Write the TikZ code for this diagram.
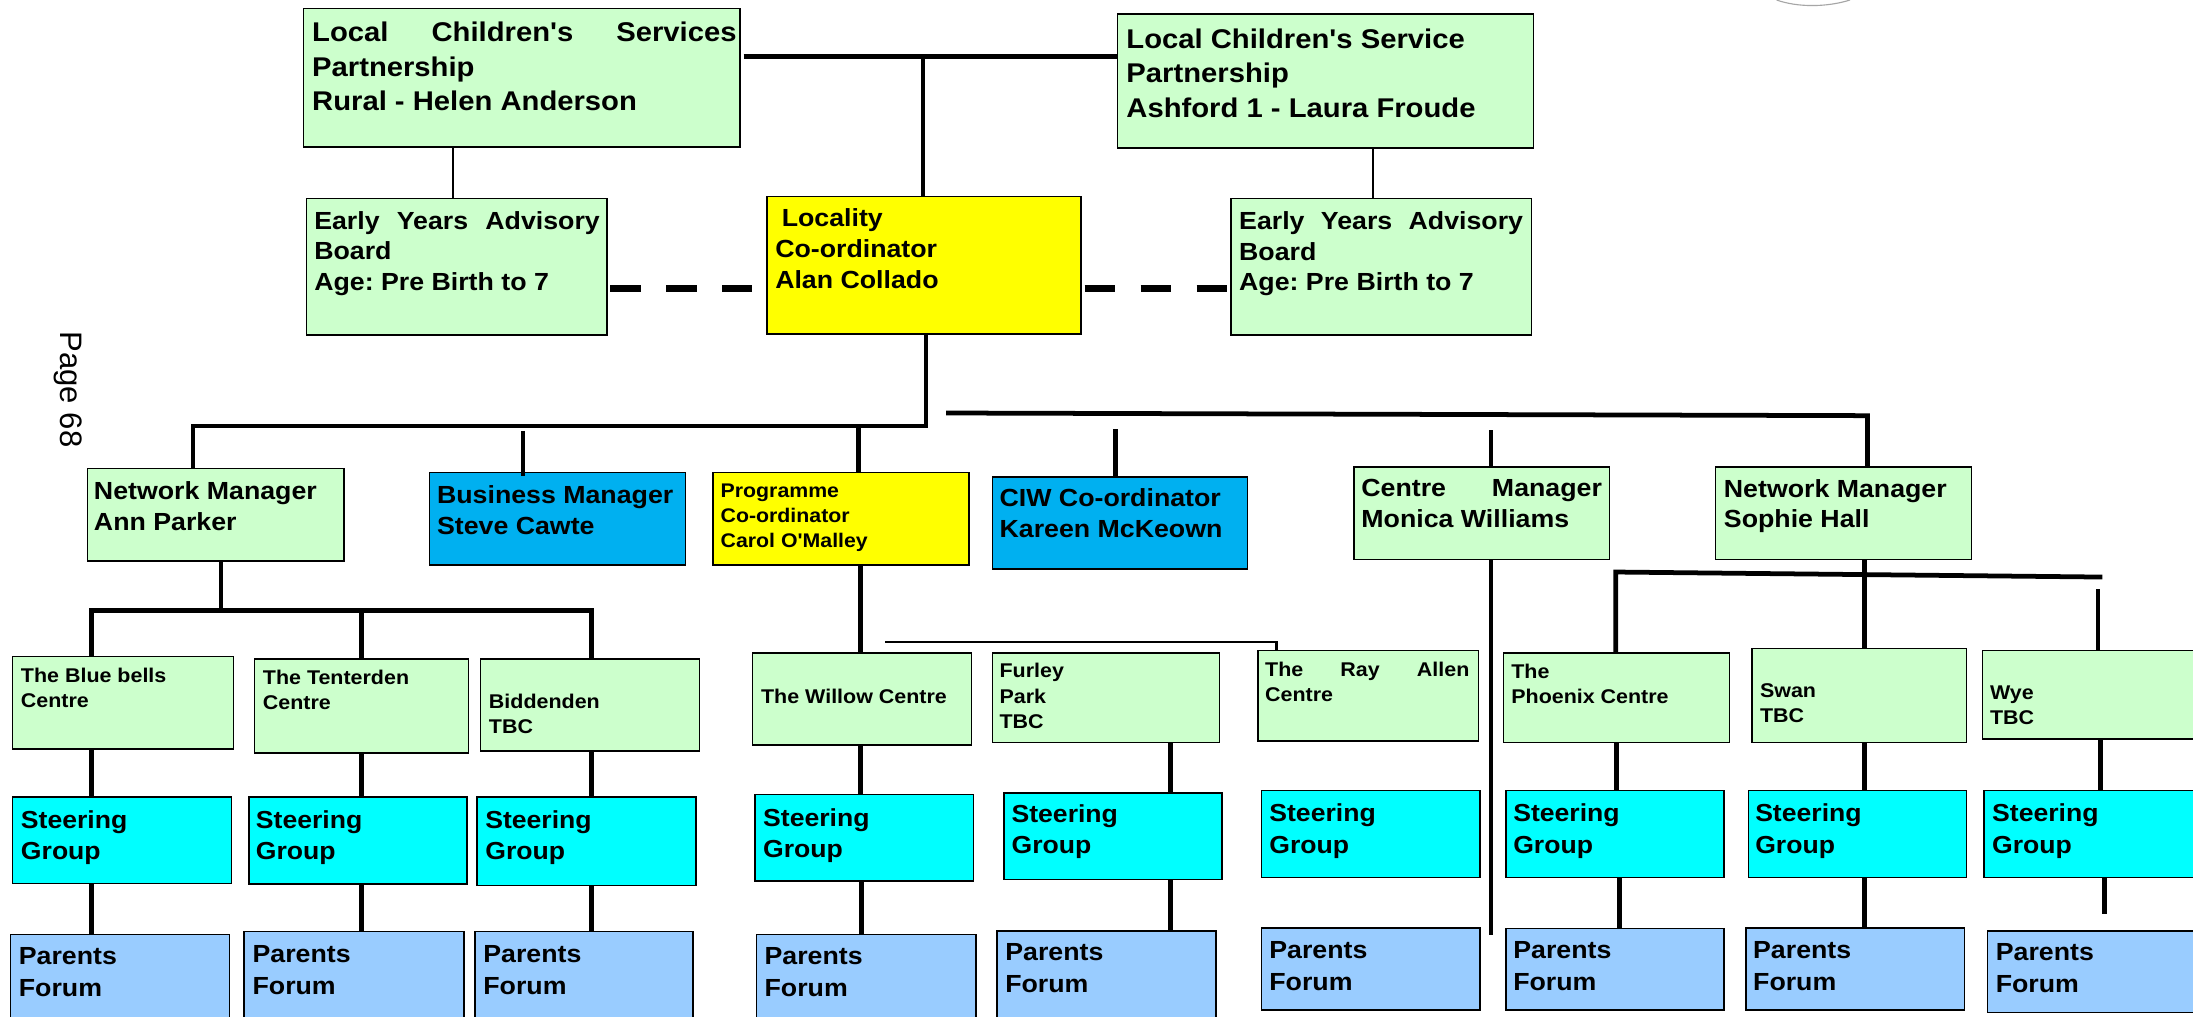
\documentclass[tikz,border=0pt]{standalone}
\usepackage{fontspec}
\newfontfamily\mf{Liberation Sans}[FakeStretch=1.08]
\newfontfamily\pagefont{Liberation Sans}
\definecolor{lgreen}{HTML}{CCFFCC}
\definecolor{yel}{HTML}{FFFF00}
\definecolor{bblue}{HTML}{00B0F0}
\definecolor{cyanc}{HTML}{00FFFF}
\definecolor{lblue}{HTML}{99CCFF}
\frenchspacing
\newcommand\obox[6]{\node[box,fill=#2,minimum width={#5-#3},minimum height={#6-#4}] (#1) at (#3,#4) {};}
\newcommand\otext[5]{\node[txt,#4] (#1) at (#2,#3) {#5};}
\tikzset{
  box/.style={draw, line width=1.1pt, rectangle, inner sep=0pt, outer sep=0pt, anchor=north west},
  txt/.style={anchor=north west, inner sep=0pt, outer sep=0pt, align=left},
  ttop/.style={font=\mf\bfseries\fontsize{19.35}{24.7}\selectfont, yshift=6.97pt},
  tmid/.style={font=\mf\bfseries\fontsize{17.7}{22}\selectfont, yshift=6.37pt},
  tprog/.style={font=\mf\bfseries\fontsize{14.1}{17.7}\selectfont, yshift=5.08pt},
  tsm/.style={font=\mf\bfseries\fontsize{14.2}{18}\selectfont, yshift=5.1pt},
  tst/.style={font=\mf\bfseries\fontsize{17.6}{22.5}\selectfont, yshift=6.34pt},
  tpf/.style={font=\mf\bfseries\fontsize{17.7}{23}\selectfont, yshift=6.37pt},
  conn/.style={line width=3.4pt},
  thinc/.style={line width=1pt},
  medc/.style={line width=1.9pt},
  dashc/.style={line width=5.5pt, dash pattern=on 21.5pt off 18.5pt},
}
\begin{document}
\begin{tikzpicture}[x=1pt,y=-1pt]
\useasboundingbox (0,0) rectangle (1568,727);
\clip (0,0) rectangle (1568,727);
\fill[white] (0,0) rectangle (1568,727);

% ---------- boxes ----------
\obox{lr}{lgreen}{217}{6}{529}{105}
\obox{la}{lgreen}{799}{10}{1096.5}{106}
\obox{el}{lgreen}{219}{141.8}{434}{239.5}
\obox{loc}{yel}{548.5}{140.5}{773}{239}
\obox{er}{lgreen}{880.2}{141.8}{1095}{239.5}

\obox{ap}{lgreen}{62.7}{335}{245.8}{401}
\obox{bm}{bblue}{307}{338}{490}{404}
\obox{pc}{yel}{509.6}{338}{693}{404}
\obox{ciw}{bblue}{709.7}{341}{892}{407}
\obox{cm}{lgreen}{968}{334}{1150.8}{400}
\obox{sh}{lgreen}{1226.6}{334}{1409.5}{400}

\obox{b1}{lgreen}{9}{469.5}{167}{535.5}
\obox{b2}{lgreen}{182}{471}{335}{538.5}
\obox{b3}{lgreen}{343.6}{471}{500}{537}
\obox{b4}{lgreen}{538}{466.8}{694.7}{532.7}
\obox{b5}{lgreen}{709.7}{466.8}{872}{531}
\obox{b6}{lgreen}{899.6}{465}{1057}{530}
\obox{b7}{lgreen}{1075}{466.8}{1236.5}{531}
\obox{b8}{lgreen}{1252.5}{463.6}{1406}{531}
\obox{b9}{lgreen}{1417.5}{465}{1580}{528.4}

\obox{s1}{cyanc}{9}{569.8}{165.5}{631.7}
\obox{s2}{cyanc}{178}{570}{334}{632}
\obox{s3}{cyanc}{341}{570}{497.6}{633}
\obox{s4}{cyanc}{539.7}{568}{696}{630}
\obox{s5}{cyanc}{718}{567}{873.7}{629}
\obox{s6}{cyanc}{902}{565.3}{1058}{627.5}
\obox{s7}{cyanc}{1076.6}{565.3}{1232.6}{627.5}
\obox{s8}{cyanc}{1250}{565.3}{1406}{627.5}
\obox{s9}{cyanc}{1418.5}{565.3}{1580}{627.5}

\obox{p1}{lblue}{7.5}{668}{164}{740}
\obox{p2}{lblue}{174.6}{666}{331.6}{740}
\obox{p3}{lblue}{339.6}{666}{495.6}{740}
\obox{p4}{lblue}{541}{668}{697.7}{740}
\obox{p5}{lblue}{713}{665.5}{869.6}{740}
\obox{p6}{lblue}{902}{663.5}{1058}{722}
\obox{p7}{lblue}{1076.6}{664}{1232.6}{722}
\obox{p8}{lblue}{1248.5}{663.5}{1404.5}{722}
\obox{p9}{lblue}{1421}{665.5}{1580}{724}

% ---------- texts ----------
\otext{lrt}{223.2}{22.6}{ttop}{\makebox[303.5pt][s]{Local Children's Services}\\Partnership\\Rural - Helen Anderson}
\otext{lat}{805.4}{27.4}{ttop}{Local Children's Service\\Partnership\\Ashford 1 - Laura Froude}
\otext{elt}{224.7}{157.3}{tmid}{\makebox[204.2pt][s]{Early Years Advisory}\\Board\\Age: Pre Birth to 7}
\otext{loct}{554.3}{155.5}{tmid}{\hspace*{4.7pt}Locality\\Co-ordinator\\Alan Collado}
\otext{ert}{886}{157.5}{tmid}{\makebox[203pt][s]{Early Years Advisory}\\Board\\Age: Pre Birth to 7}

\otext{apt}{67.2}{350.6}{tmid}{Network Manager\\Ann Parker}
\otext{bmt}{312.5}{353.6}{tmid}{Business Manager\\Steve Cawte}
\otext{pct}{515.3}{351.2}{tprog}{Programme\\Co-ordinator\\Carol O'Malley}
\otext{ciwt}{714.7}{356}{tmid}{CIW Co-ordinator\\Kareen McKeown}
\otext{cmt}{973.4}{349.3}{tmid}{\makebox[172pt][s]{Centre Manager}\\Monica Williams}
\otext{sht}{1232.6}{349}{tmid}{Network Manager\\Sophie Hall}

\otext{b1t}{15}{482.5}{tsm}{The Blue bells\\Centre}
\otext{b2t}{188}{483.9}{tsm}{The Tenterden\\Centre}
\otext{b3t}{349.6}{501.3}{tsm}{Biddenden\\TBC}
\otext{b4t}{544.2}{497.7}{tsm}{The Willow Centre}
\otext{b5t}{714.7}{479.5}{tsm}{Furley\\Park\\TBC}
\otext{b6t}{904.6}{478.4}{tsm}{\makebox[146pt][s]{The Ray Allen}\\Centre}
\otext{b7t}{1080.6}{479.8}{tsm}{The\\Phoenix Centre}
\otext{b8t}{1258.4}{493.9}{tsm}{Swan\\TBC}
\otext{b9t}{1422.9}{495.3}{tsm}{Wye\\TBC}

\otext{s1t}{15}{585.8}{tst}{Steering\\Group}
\otext{s2t}{183}{585.8}{tst}{Steering\\Group}
\otext{s3t}{347}{585.8}{tst}{Steering\\Group}
\otext{s4t}{545.7}{584.4}{tst}{Steering\\Group}
\otext{s5t}{723.3}{581.6}{tst}{Steering\\Group}
\otext{s6t}{907.6}{581.2}{tst}{Steering\\Group}
\otext{s7t}{1082}{581.2}{tst}{Steering\\Group}
\otext{s8t}{1255}{581.2}{tst}{Steering\\Group}
\otext{s9t}{1424.4}{581.2}{tst}{Steering\\Group}

\otext{p1t}{13.5}{683.8}{tpf}{Parents\\Forum}
\otext{p2t}{180.6}{682.4}{tpf}{Parents\\Forum}
\otext{p3t}{345.6}{682.4}{tpf}{Parents\\Forum}
\otext{p4t}{546.7}{683.8}{tpf}{Parents\\Forum}
\otext{p5t}{718.8}{681}{tpf}{Parents\\Forum}
\otext{p6t}{907.6}{679.2}{tpf}{Parents\\Forum}
\otext{p7t}{1082}{679.2}{tpf}{Parents\\Forum}
\otext{p8t}{1253.5}{679.2}{tpf}{Parents\\Forum}
\otext{p9t}{1427}{680.7}{tpf}{Parents\\Forum}

\node[rotate=-90, anchor=base west, inner sep=0pt, font=\pagefont\fontsize{22.2}{26}\selectfont] (pg) at (42.9,237) {Page 68};

% partial circle at top right
\draw[gray!70, line width=0.8pt] (1270.3,0) .. controls (1285,5.3) and (1306,5.3) .. (1322.8,0);

% ---------- connectors ----------
\coordinate (jt) at (660,40.5);
\draw[conn] ([xshift=2.7pt]lr.east |- jt) -- (la.west |- jt);
\draw[conn] (jt) -- (loc.north -| jt);
\draw[thinc] (lr.south -| 324,0) -- (el.north -| 324,0);
\draw[thinc] (la.south -| 981.7,0) -- (er.north -| 981.7,0);
\coordinate (dl) at (0,206.2);
\draw[dashc, shorten <=2.5pt, shorten >=10.5pt] (el.east |- dl) -- (loc.west |- dl);
\draw[dashc, shorten <=2.5pt, shorten >=3.2pt] (loc.east |- dl) -- (er.west |- dl);

\coordinate (j2) at (662,304.6);
\coordinate (j2l) at (138,304.6);
\coordinate (j2p) at (614,304.6);
\draw[conn] (loc.south -| j2) -- (j2) -- (j2l) -- (ap.north -| j2l);
\draw[conn] (j2p) -- (pc.north -| j2p);
\coordinate (bst) at (374,308);
\draw[conn] (bst) -- ([yshift=-2pt]bm.north -| bst);
\coordinate (cst) at (797.4,307);
\draw[conn] (cst) -- (ciw.north -| cst);
\coordinate (mst) at (1066,307.5);
\draw[conn] (mst) -- (cm.north -| mst);
\coordinate (jr1) at (676.5,295.3);
\coordinate (jr2) at (1335.3,297.2);
\draw[conn] (jr1) -- (jr2) -- (sh.north -| jr2);

\coordinate (a1) at (65.2,436.6);
\coordinate (a2) at (258.3,436.6);
\coordinate (a3) at (423,436.6);
\draw[conn] (ap.south -| 158,0) -- (158,436.6);
\draw[conn] (b1.north -| a1) -- (a1) -- (a3) -- (b3.north -| a3);
\draw[conn] (a2) -- (b2.north -| a2);

\draw[conn] (pc.south -| 615,0) -- (b4.north -| 615,0);
\coordinate (w1) at (633,459);
\coordinate (w2) at (912.6,459);
\draw[medc] (w1) -- (w2) -- (b6.north -| w2);

\coordinate (cmend) at (1066,668.3);
\draw[conn] (cm.south -| cmend) -- (cmend);

\coordinate (h1) at (1155.3,409);
\coordinate (h2) at (1503.2,412.6);
\draw[conn] (b7.north -| h1) -- (h1) -- (h2);
\draw[conn] (sh.south -| 1333.3,0) -- (b8.north -| 1333.3,0);
\coordinate (wy) at (1500,421.2);
\draw[conn] (wy) -- (b9.north -| wy);

% row 3 -> steering
\draw[conn] (b1.south -| 65.2,0) -- (s1.north -| 65.2,0);
\draw[conn] (b2.south -| 258.3,0) -- (s2.north -| 258.3,0);
\draw[conn] (b3.south -| 423,0) -- (s3.north -| 423,0);
\draw[conn] (b4.south -| 615.5,0) -- (s4.north -| 615.5,0);
\draw[conn] (b5.south -| 836.8,0) -- (s5.north -| 836.8,0);
\draw[conn] (b7.south -| 1156,0) -- (s7.north -| 1156,0);
\draw[conn] (b8.south -| 1333.3,0) -- (s8.north -| 1333.3,0);
\draw[conn] (b9.south -| 1502,0) -- (s9.north -| 1502,0);

% steering -> parents
\draw[conn] (s1.south -| 65.2,0) -- (p1.north -| 65.2,0);
\draw[conn] (s2.south -| 258.3,0) -- (p2.north -| 258.3,0);
\draw[conn] (s3.south -| 423,0) -- (p3.north -| 423,0);
\draw[conn] (s4.south -| 616,0) -- (p4.north -| 616,0);
\draw[conn] (s5.south -| 836.8,0) -- (p5.north -| 836.8,0);
\draw[conn] (s7.south -| 1158,0) -- (p7.north -| 1158,0);
\draw[conn] (s8.south -| 1333.3,0) -- (p8.north -| 1333.3,0);
\coordinate (wyend) at (1504.7,653.4);
\draw[conn] (s9.south -| wyend) -- (wyend);
\end{tikzpicture}
\end{document}
